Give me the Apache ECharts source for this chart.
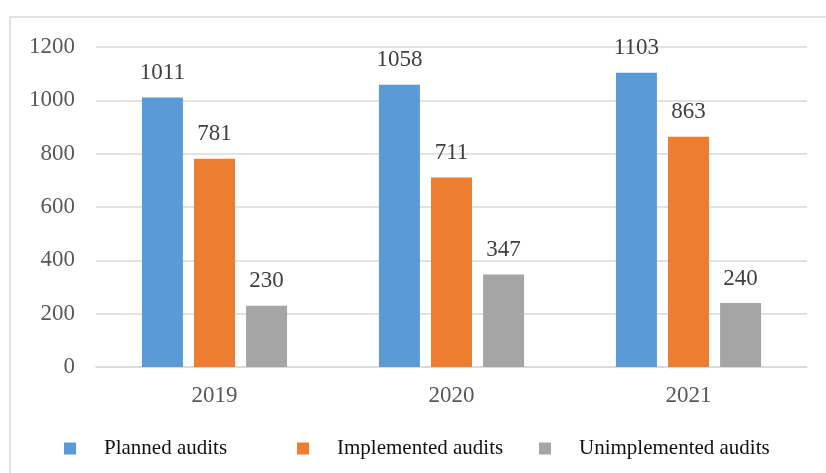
<!DOCTYPE html>
<html>
<head>
<meta charset="utf-8">
<script src="https://cdn.jsdelivr.net/npm/echarts@6/dist/echarts.min.js"></script>
<style>
  html, body { margin: 0; padding: 0; background: #fff; }
  #chart { width: 826px; height: 473px; }
</style>
</head>
<body>
<div id="chart"></div>
<script>
// Audit counts per year
const years = ['2019', '2020', '2021'];
const plannedAudits = [1011, 1058, 1103];
const implementedAudits = [781, 711, 863];
const unimplementedAudits = [230, 347, 240];
const seriesNames = ['Planned audits', 'Implemented audits', 'Unimplemented audits'];
const seriesColors = ['#5B9BD5', '#ED7D31', '#A5A5A5'];

const FONT = '"Liberation Serif", "Times New Roman", serif';

const chart = echarts.init(document.getElementById('chart'));

function barSeries(name, values, color) {
  return {
    name: name,
    type: 'bar',
    data: values,
    barWidth: 41,
    barGap: '27%',
    itemStyle: { color: color },
    label: {
      show: true,
      position: 'top',
      distance: 13,
      fontFamily: FONT,
      fontSize: 23,
      color: '#404040'
    }
  };
}

function legendAt(name, left) {
  return {
    data: [name],
    left: left,
    top: 438,
    padding: 0,
    icon: 'rect',
    itemWidth: 12,
    itemHeight: 12,
    textStyle: {
      fontFamily: FONT,
      fontSize: 21,
      color: '#111',
      padding: [0, 0, 0, 23]
    }
  };
}

chart.setOption({
  animation: false,
  backgroundColor: '#fff',
  graphic: [{
    type: 'rect',
    shape: { x: 10, y: 17, width: 830, height: 480 },
    style: { fill: 'none', stroke: '#d9d9d9', lineWidth: 1.5 },
    silent: true
  }],
  grid: { left: 96, right: 19, top: 47, bottom: 106 },
  legend: [
    legendAt(seriesNames[0], 64),
    legendAt(seriesNames[1], 297),
    legendAt(seriesNames[2], 539)
  ],
  xAxis: {
    type: 'category',
    data: years,
    axisLine: { lineStyle: { color: '#d9d9d9', width: 1.5 } },
    axisTick: { show: false },
    axisLabel: {
      fontFamily: FONT,
      fontSize: 23,
      color: '#595959',
      margin: 17
    }
  },
  yAxis: {
    type: 'value',
    min: 0,
    max: 1200,
    interval: 200,
    axisLine: { show: false },
    axisTick: { show: false },
    splitLine: { lineStyle: { color: '#d9d9d9', width: 1.5 } },
    axisLabel: {
      fontFamily: FONT,
      fontSize: 23,
      color: '#595959',
      margin: 21,
      formatter: (v) => String(v)
    }
  },
  series: [
    barSeries(seriesNames[0], plannedAudits, seriesColors[0]),
    barSeries(seriesNames[1], implementedAudits, seriesColors[1]),
    barSeries(seriesNames[2], unimplementedAudits, seriesColors[2])
  ]
});
</script>
</body>
</html>
